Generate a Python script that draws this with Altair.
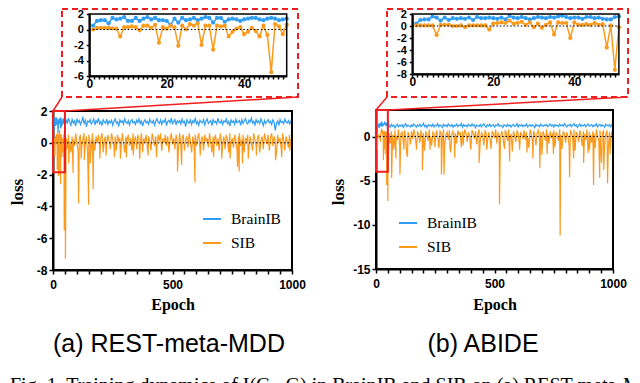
import altair as alt
import pandas as pd

BLUE = "#2F9DF4"
ORANGE = "#FA9B1E"
RED = "#F01E1E"

# ---------------- data ----------------
INSET_EPOCHS = list(range(1, 52))
GRID_EPOCHS = list(range(55, 1001, 5))

# Panel (a) REST-meta-MDD
A_brainib_first = [0.5, 1.1, 1.2, 1.2, 0.8, 1.5, 1.3, 1.4, 1.6, 1.1,
                   1.1, 1.5, 1.1, 1.4, 1.6, 1.3, 1.5, 1.2, 1.2, 1.1,
                   0.6, 1.4, 0.9, 1.5, 1.2, 1.3, 1.5, 1.2, 1.4, 1.6,
                   1.5, 0.9, 1.5, 1.5, 1.0, 1.3, 1.4, 1.3, 1.1, 1.3,
                   1.4, 1.5, 1.5, 1.3, 1.2, 1.4, 1.5, 1.4, 1.2, 1.3,
                   1.4]
A_sib_first = [0.0, 0.2, 0.2, 0.2, 0.2, 0.15, 0.1, -0.9, 0.3, 0.3,
               0.4, 0.3, -0.1, 0.5, 0.5, 0.2, 0.6, -1.7, 0.3, 0.1,
               0.5, 0.3, -2.1, 0.5, 0.0, 0.7, 0.5, 0.8, -2.0, 0.5,
               0.5, -2.6, 0.5, 0.4, 0.5, -0.9, -0.3, 0.1, 0.3, -0.6,
               -0.3, 0.2, -0.2, -0.9, 0.5, -0.7, -5.5, 0.7, 0.4, -0.6,
               0.6]
A_brainib_rest = [
    1.45, 1.20, 1.55, 1.30, 1.10, 1.48, 1.25, 1.38, 1.05, 1.52, 1.28, 1.40, 1.15, 1.35, 1.58, 1.22, 1.42, 1.00, 1.36,
    1.30, 1.46, 1.18, 1.33, 1.50, 1.12, 1.40, 1.27, 1.55, 1.20, 1.34, 1.08, 1.45, 1.30, 1.22, 1.48, 1.15, 1.38, 1.26,
    1.42, 1.10, 1.35, 1.50, 1.24, 1.32, 1.02, 1.44, 1.28, 1.38, 1.18, 1.52, 1.30, 1.22, 1.40, 1.12, 1.36, 1.46, 1.25,
    1.33, 1.15, 1.42, 1.28, 1.50, 1.20, 1.38, 1.05, 1.32, 1.45, 1.26, 1.35, 1.18, 1.48, 1.30, 1.24, 1.40, 1.10, 1.36,
    1.52, 1.28, 1.22, 1.44, 1.16, 1.38, 1.30, 1.50, 1.08, 1.34, 1.42, 1.25, 1.55, 1.20, 1.33, 1.46, 1.12, 1.38, 1.28,
    1.40, 1.18, 1.50, 1.26, 1.35, 1.02, 1.44, 1.30, 1.22, 1.48, 1.15, 1.38, 1.28, 1.52, 1.20, 1.34, 1.10, 1.42, 1.30,
    1.25, 1.46, 1.12, 1.36, 1.50, 1.22, 1.32, 1.40, 1.08, 1.45, 1.28, 1.35, 1.18, 1.55, 1.30, 1.24, 1.42, 1.15, 1.38,
    1.30, 1.50, 1.20, 1.34, 1.05, 1.44, 1.28, 1.38, 1.16, 1.48, 1.25, 1.32, 1.40, 1.10, 1.46, 1.22, 1.36, 1.52, 1.28,
    1.18, 1.42, 1.30, 1.55, 1.24, 1.35, 1.12, 1.45, 1.28, 1.38, 1.20, 1.50, 1.32, 1.08, 1.40, 1.22, 1.34, 1.46, 1.26,
    1.36, 1.15, 1.44, 1.30, 0.78, 1.22, 1.38, 1.10, 1.46, 1.28, 1.34, 1.20, 1.48, 1.32, 1.25, 1.40, 1.18, 1.36, 1.30]
A_sib_rest = [
    0.3, -0.4, 0.5, 0.1, -0.6, 0.4, 0.2, -0.2, 0.6, 0.0, -0.5, 0.3, 0.5, -0.3, 0.2, 0.6, -0.1, 0.4, -0.7,
    0.5, 0.1, -0.3, 0.6, 0.2, -0.5, 0.4, 0.0, 0.5, -0.2, 0.3, 0.6, -0.6, 0.2, 0.4, -0.1, 0.5, 0.1, -0.4,
    0.6, 0.2, -0.2, 0.4, -0.5, 0.5, 0.1, 0.3, -0.3, 0.6, 0.0, -0.6, 0.4, 0.2, 0.5, -0.2, 0.3, -0.5, 0.6,
    0.1, 0.4, -0.4, 0.5, 0.2, -0.1, 0.6, -0.6, 0.3, 0.0, 0.5, -0.3, 0.4, 0.1, -0.5, 0.6, 0.2, -0.2, 0.4,
    -0.3, 0.5, 0.1, 0.6, -0.5, 0.3, 0.0, 0.5, -0.2, 0.4, -0.6, 0.2, 0.6, -0.1, 0.3, -0.4, 0.5, 0.1, -0.3,
    0.6, -0.2, 0.3, 0.5, -0.5, 0.2, 0.4, -0.3, 0.6, 0.1, -0.6, 0.4, 0.0, 0.5, -0.2, 0.3, 0.6, -0.4, 0.2,
    0.4, -0.5, 0.5, 0.1, 0.3, -0.3, 0.6, 0.0, -0.6, 0.4, 0.2, 0.5, -0.2, 0.3, -0.5, 0.6, 0.1, -0.1, 0.4,
    -0.4, 0.5, 0.2, -0.6, 0.6, 0.0, 0.3, -0.3, 0.5, 0.1, -0.5, 0.4, 0.6, -0.2, 0.2, 0.5, -0.6, 0.3, 0.1,
    0.5, -0.3, 0.4, 0.0, -0.5, 0.6, 0.2, -0.2, 0.3, 0.5, -0.6, 0.1, 0.4, -0.4, 0.6, 0.2, -0.1, 0.5, -0.5,
    0.3, 0.6, -0.2, 0.4, 0.1, -0.6, 0.5, 0.0, 0.3, -0.4, 0.6, 0.2, -0.5, 0.4, 0.1, -0.3, 0.5, 0.2, 0.3]
A_spike_epochs = [52, 66, 84, 107, 118, 131, 149, 156, 168, 196,
                  222, 257, 282, 307, 336, 363, 398, 433, 521, 538,
                  594, 616, 672, 706, 741, 772, 779, 793, 817, 851,
                  931, 957, 991]
A_spike_values = [-7.3, -1.3, -1.9, -3.8, -1.0, -1.1, -3.9, -1.3, -2.9, -1.0,
                  -0.8, -0.9, -1.0, -0.9, -0.8, -1.0, -0.8, -0.9, -1.8, -1.4,
                  -2.5, -0.8, -0.9, -1.0, -1.0, -1.5, -1.8, -1.3, -1.0, -0.8,
                  -1.1, -0.9, -0.5]

# Panel (b) ABIDE
B_brainib_first = [0.4, 1.0, 1.1, 1.1, 1.6, 1.4, 0.9, 1.4, 1.0, 1.3,
                   1.2, 1.3, 1.2, 1.4, 1.0, 1.5, 1.3, 1.3, 1.4, 1.3,
                   1.2, 1.4, 1.1, 1.7, 1.4, 1.3, 1.5, 1.3, 1.1, 1.3,
                   1.5, 1.4, 1.3, 1.5, 1.4, 1.6, 1.7, 1.5, 1.3, 1.4,
                   1.4, 1.2, 1.5, 1.5, 1.3, 1.4, 1.2, 1.1, 1.1, 1.5,
                   1.6]
B_sib_first = [0.1, 0.1, 0.1, 0.1, 0.1, -1.5, 0.2, 0.2, 0.2, 0.0,
               0.0, 0.1, -0.2, 0.1, 0.1, 0.1, 0.1, 0.1, -0.6, 0.4,
               0.5, 0.6, 0.5, 0.9, 0.4, 0.5, 0.7, 0.2, 0.6, -0.2,
               0.4, -0.3, 0.2, 0.6, -1.4, 0.6, 0.5, 0.5, -2.0, 0.6,
               0.2, 0.2, 0.3, 0.2, 0.5, 0.2, 0.3, -3.6, 0.1, -7.3,
               -0.2]
B_brainib_rest = [
    1.25, 1.05, 1.38, 1.15, 1.30, 0.98, 1.22, 1.40, 1.10, 1.28, 1.18, 1.35, 1.02, 1.26, 1.45, 1.12, 1.30, 1.20, 1.08,
    1.32, 1.15, 1.42, 1.22, 1.05, 1.30, 1.18, 1.38, 1.10, 1.25, 1.48, 1.12, 1.28, 1.00, 1.35, 1.20, 1.30, 1.15, 1.40,
    1.08, 1.28, 1.20, 1.45, 1.12, 1.32, 1.22, 1.02, 1.38, 1.18, 1.30, 1.10, 1.42, 1.25, 1.15, 1.35, 1.05, 1.28, 1.20,
    1.40, 1.12, 1.30, 1.22, 1.48, 1.05, 1.35, 1.18, 1.28, 1.10, 1.38, 1.25, 1.15, 1.42, 1.20, 1.32, 1.00, 1.30, 1.22,
    1.15, 1.36, 1.10, 1.28, 1.44, 1.20, 1.05, 1.32, 1.18, 1.40, 1.12, 1.26, 1.35, 1.08, 1.30, 1.22, 1.45, 1.15, 1.28,
    1.20, 1.02, 1.34, 1.25, 1.12, 1.40, 1.18, 1.30, 1.06, 1.28, 1.38, 1.15, 1.22, 1.45, 1.10, 1.32, 1.20, 1.36, 1.12,
    1.30, 1.18, 1.42, 1.08, 1.26, 1.35, 1.15, 1.30, 1.22, 1.00, 1.38, 1.20, 1.28, 1.12, 1.40, 1.25, 1.15, 1.32, 1.20,
    1.36, 1.10, 1.25, 1.42, 1.18, 1.30, 1.05, 1.35, 1.22, 1.28, 1.12, 1.40, 1.20, 1.32, 1.15, 1.45, 1.25, 1.08, 1.30,
    1.22, 1.38, 1.12, 1.28, 1.45, 1.18, 1.32, 1.02, 1.26, 1.40, 1.15, 1.30, 1.20, 1.36, 1.10, 1.28, 1.42, 1.18, 1.25,
    1.35, 1.12, 1.30, 1.20, 1.45, 1.08, 1.28, 1.38, 1.15, 1.32, 1.22, 1.05, 1.40, 1.26, 1.18, 1.35, 1.10, 1.30, 1.42]
B_sib_rest = [
    0.4, -0.8, 0.6, 0.2, -1.5, 0.7, 0.1, -0.4, 0.8, -1.2, 0.3, 0.5, -0.6, 0.7, 0.0, -2.0, 0.5, 0.2, -0.9,
    0.6, -0.3, 0.8, 0.1, -1.1, 0.5, 0.3, -0.7, 0.7, -0.2, 0.4, -1.6, 0.6, 0.2, -0.5, 0.8, 0.0, -1.0, 0.5,
    0.3, -0.6, 0.7, 0.1, -1.3, 0.6, 0.4, -0.3, 0.8, -0.9, 0.2, 0.5, -0.4, 0.7, -1.8, 0.3, 0.6, -0.2, 0.4,
    -0.8, 0.7, 0.2, 0.5, -1.2, 0.6, -0.1, 0.8, 0.3, -0.6, 0.5, 0.1, -1.5, 0.7, 0.4, -0.3, 0.6, -0.9, 0.3,
    0.8, -0.5, 0.4, 0.2, -1.0, 0.7, 0.3, -0.7, 0.5, 0.0, -1.4, 0.6, 0.3, -0.2, 0.8, -0.8, 0.4, 0.1, -0.4,
    0.6, 0.2, -1.1, 0.7, 0.4, -0.5, 0.8, -0.2, 0.3, -1.7, 0.6, 0.1, -0.6, 0.7, 0.3, -0.9, 0.5, 0.2, -0.3,
    0.7, -0.4, 0.5, 0.0, -1.3, 0.8, 0.3, -0.6, 0.6, 0.2, -1.0, 0.4, 0.7, -0.3, 0.5, -2.1, 0.6, 0.1, -0.5,
    0.8, 0.3, -0.8, 0.6, -0.2, 0.4, 0.7, -1.2, 0.5, 0.1, -0.5, 0.8, 0.2, -1.4, 0.6, 0.3, -0.7, 0.5, 0.0,
    -1.0, 0.7, 0.4, -0.3, 0.8, -1.6, 0.5, 0.2, -0.6, 0.7, 0.1, -1.1, 0.6, 0.3, -0.4, 0.8, -1.9, 0.5, 0.2,
    -0.7, 0.6, 0.3, -1.3, 0.8, 0.0, -0.5, 0.7, -2.2, 0.4, 0.6, -0.8, 0.3, 0.7, -1.5, 0.5, -0.3, 0.6, -0.9]
B_spike_epochs = [31, 45, 52, 66, 84, 101, 118, 133, 171, 196,
                  228, 249, 276, 287, 312, 332, 368, 435, 467, 521,
                  543, 564, 606, 637, 662, 691, 722, 749, 777, 817,
                  834, 876, 901, 918, 944, 952, 961, 977, 988, 998]
B_spike_values = [-2.7, -5.5, -3.0, -4.7, -2.5, -4.3, -1.5, -2.3, -1.5, -3.8,
                  -1.5, -1.2, -4.3, -4.3, -1.3, -2.4, -1.0, -3.0, -1.5, -7.7,
                  -1.4, -2.8, -1.5, -1.8, -2.5, -3.6, -2.0, -2.0, -11.2, -4.6,
                  -2.5, -3.0, -1.5, -5.5, -4.7, -3.0, -3.8, -5.3, -2.0, -1.0]

SERIES = ["BrainIB", "SIB"]


def frame(name, epochs, values):
    return pd.DataFrame({"epoch": epochs, "loss": values, "series": name})


main_a = pd.concat([
    frame("BrainIB", INSET_EPOCHS + GRID_EPOCHS, A_brainib_first + A_brainib_rest),
    frame("SIB", INSET_EPOCHS + GRID_EPOCHS + A_spike_epochs, A_sib_first + A_sib_rest + A_spike_values),
])
inset_a = pd.concat([frame("BrainIB", INSET_EPOCHS, A_brainib_first), frame("SIB", INSET_EPOCHS, A_sib_first)])
main_b = pd.concat([
    frame("BrainIB", INSET_EPOCHS + GRID_EPOCHS, B_brainib_first + B_brainib_rest),
    frame("SIB", INSET_EPOCHS + GRID_EPOCHS + B_spike_epochs, B_sib_first + B_sib_rest + B_spike_values),
])
inset_b = pd.concat([frame("BrainIB", INSET_EPOCHS, B_brainib_first), frame("SIB", INSET_EPOCHS, B_sib_first)])

# ---------------- layout (view pixels) ----------------
W, H = 624, 375
ONE = pd.DataFrame({"k": [0]})


def sc(domain, rng):
    return alt.Scale(domain=domain, range=rng, nice=False, zero=False)


def x_axis(offset, values, expr, tick=4, pad=5, size=12):
    return alt.Axis(orient="bottom", offset=offset, values=values, labelExpr=expr, title=None, grid=False,
                    domainColor="black", domainWidth=2, tickColor="black", tickWidth=1.5, tickSize=tick,
                    labelFont="Liberation Sans", labelFontWeight="bold", labelFontSize=size, labelColor="black",
                    labelPadding=pad, labelOverlap=False, labelFlush=False)


def y_axis(offset, values, tick=4, pad=2, size=12):
    return alt.Axis(orient="left", offset=offset, values=values, labelExpr="'' + datum.value", title=None,
                    grid=False, domainColor="black", domainWidth=2, tickColor="black", tickWidth=1.5,
                    tickSize=tick, labelFont="Liberation Sans", labelFontWeight="bold", labelFontSize=size,
                    labelColor="black", labelPadding=pad, labelOverlap=False, labelFlush=False)


def panel(main_df, inset_df, mx, my, ix, iy, mdom_y, idom_y, m_yvals, i_yvals, red_y, legend_xy):
    leaves = []
    mxs = sc([0, 1000], mx)
    mys = sc(mdom_y, my)
    ixs = sc([0, 51], ix)
    iys = sc(idom_y, iy)
    color_scale = alt.Scale(domain=SERIES, range=[BLUE, ORANGE])
    leaves.append(alt.Chart(main_df).mark_line(strokeWidth=1.2).encode(
        x=alt.X("epoch:Q", scale=mxs, axis=x_axis(my[0] - H, list(range(0, 1001, 50)),
                                                   "datum.value % 500 == 0 ? '' + datum.value : ''")),
        y=alt.Y("loss:Q", scale=mys, axis=y_axis(-mx[0], m_yvals)),
        color=alt.Color("series:N", scale=color_scale, legend=alt.Legend(
            orient="none", legendX=legend_xy[0], legendY=legend_xy[1], title=None, symbolType="stroke",
            symbolSize=324, symbolStrokeWidth=2, labelFont="Liberation Serif", labelFontSize=15.5,
            labelColor="black", labelOffset=9, padding=0, rowPadding=5, direction="vertical")),
    ))
    leaves.append(alt.Chart(ONE).mark_rule(color="black", strokeDash=[1.5, 2], strokeWidth=1).encode(
        x=alt.XDatum(0, scale=mxs, axis=None), x2=alt.X2Datum(1000), y=alt.YDatum(0, scale=mys, axis=None)))
    leaves.append(alt.Chart(ONE).mark_rect(fillOpacity=0, stroke="black", strokeWidth=2).encode(
        x=alt.XDatum(0, scale=mxs, axis=None), x2=alt.X2Datum(1000),
        y=alt.YDatum(mdom_y[0], scale=mys, axis=None), y2=alt.Y2Datum(mdom_y[1])))
    leaves.append(alt.Chart(ONE).mark_rect(fillOpacity=0, stroke=RED, strokeWidth=2).encode(
        x=alt.XDatum(0, scale=mxs, axis=None), x2=alt.X2Datum(50),
        y=alt.YDatum(red_y, scale=mys, axis=None), y2=alt.Y2Datum(mdom_y[1])))
    # inset
    leaves.append(alt.Chart(inset_df).mark_line(strokeWidth=1.5, point=alt.OverlayMarkDef(size=18, filled=True,
                                                                                           opacity=1)).encode(
        x=alt.X("epoch:Q", scale=ixs, axis=x_axis(iy[0] - H, [i * 1.25 for i in range(41)],
                                                   "datum.value % 20 == 0 ? '' + datum.value : ''", tick=3, pad=-1)),
        y=alt.Y("loss:Q", scale=iys, axis=y_axis(-ix[0], i_yvals, tick=3, pad=3, size=11)),
        color=alt.Color("series:N", scale=color_scale, legend=None),
    ))
    leaves.append(alt.Chart(ONE).mark_rule(color="black", strokeDash=[1.5, 2], strokeWidth=1).encode(
        x=alt.XDatum(0, scale=ixs, axis=None), x2=alt.X2Datum(51), y=alt.YDatum(0, scale=iys, axis=None)))
    leaves.append(alt.Chart(ONE).mark_rect(fillOpacity=0, stroke="black", strokeWidth=1.5).encode(
        x=alt.XDatum(0, scale=ixs, axis=None), x2=alt.X2Datum(51),
        y=alt.YDatum(idom_y[0], scale=iys, axis=None), y2=alt.Y2Datum(idom_y[1])))
    return leaves


leaves = []
leaves += panel(main_a, inset_a, [45, 284], [262, 103], [81.3, 278.7], [68, 6],
                [-8, 2], [-6, 2], [2, 0, -2, -4, -6, -8], [2, 0, -2, -4, -6], -1.85, (194, 201))
leaves += panel(main_b, inset_b, [368, 605], [261, 102], [404.3, 610.9], [66, 6],
                [-15, 3], [-8, 2], [0, -5, -10, -15], [2, 0, -2, -4, -6, -8], -4, (390, 205))


def dashed_box(x1, x2, y1, y2):
    return alt.Chart(ONE).mark_rect(fillOpacity=0, stroke=RED, strokeWidth=2, strokeDash=[6, 4]).encode(
        x=alt.value(x1), x2=alt.value(x2), y=alt.value(y1), y2=alt.value(y2))


def connector(x1, y1, x2, y2):
    return alt.Chart(ONE).mark_rule(color=RED, strokeWidth=1.5).encode(
        x=alt.value(x1), y=alt.value(y1), x2=alt.value(x2), y2=alt.value(y2))


def label(text, x, y, size, font, weight="normal", angle=0, align="center", baseline="alphabetic"):
    return alt.Chart(ONE).mark_text(text=text, font=font, fontSize=size, fontWeight=weight, angle=angle,
                                    align=align, baseline=baseline, color="black").encode(
        x=alt.value(x), y=alt.value(y))


leaves += [
    dashed_box(54, 290, 1, 89), dashed_box(379, 620, 1, 89),
    connector(45, 103, 54, 89), connector(57, 103, 290, 89),
    connector(368, 102, 379, 89), connector(380, 102, 620, 89),
    label("Epoch", 165, 302, 16, "Liberation Serif", "bold"),
    label("Epoch", 487, 302, 16, "Liberation Serif", "bold"),
    label("loss", 10, 184, 17, "Liberation Serif", "bold", angle=270, baseline="middle"),
    label("loss", 331, 184, 17, "Liberation Serif", "bold", angle=270, baseline="middle"),
    label("(a) REST-meta-MDD", 161, 344, 25, "Liberation Sans"),
    label("(b) ABIDE", 475, 344, 25, "Liberation Sans"),
    label("Fig. 1.   Training dynamics of I(G     , G) in BrainIB and SIB on (a) REST-meta-MDD", 2, 384, 20,
          "Liberation Serif", align="left"),
]

chart = alt.layer(*leaves).resolve_scale(
    x="independent", y="independent", color="independent"
).properties(
    width=W, height=H, padding=0, autosize=alt.AutoSizeParams(type="none")
).configure_view(stroke=None)

chart.save("out.html", embed_options={"renderer": "svg", "actions": False})
